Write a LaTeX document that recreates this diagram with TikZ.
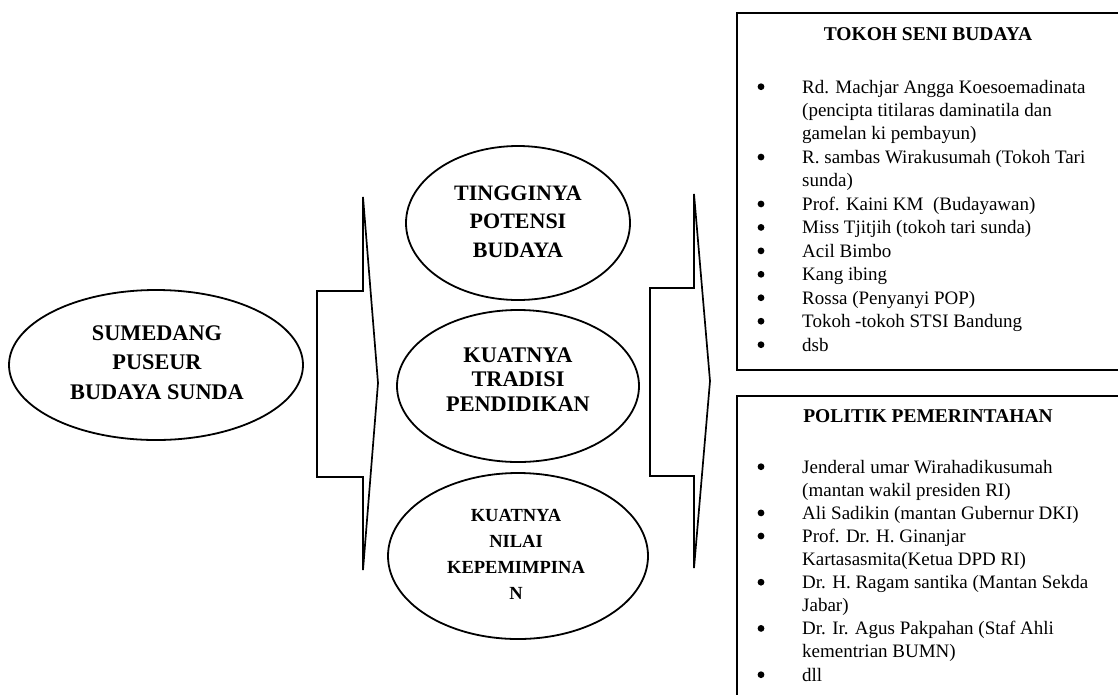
\documentclass[tikz,border=0pt]{standalone}
\usepackage{fontspec}
\setmainfont{Liberation Serif}
\usetikzlibrary{shapes.geometric}
\tikzset{
  oval/.style={draw, ellipse, line width=1.8pt, inner sep=0pt},
  otext/.style={align=center, inner sep=0pt, font=\bfseries\fontsize{22.3}{29.5}\selectfont},
  boxframe/.style={draw, rectangle, line width=1.7pt, inner sep=0pt, anchor=north west},
  ltext/.style={anchor=base west, inner sep=0pt, font=\fontsize{19}{23}\selectfont},
  bul/.style={circle, fill=black, inner sep=0pt, minimum size=6.8pt},
  ttl/.style={anchor=base, inner sep=0pt, font=\bfseries\fontsize{19.5}{23}\selectfont},
  blockarrow/.style={draw, line width=1.7pt, line join=miter},
}
\begin{document}
\begin{tikzpicture}[x=1pt,y=-1pt]
\clip (0,0) rectangle (1118,694);
\fill[white] (0,0) rectangle (1118,694);

% source ellipse
\node[oval, minimum width=294pt, minimum height=150pt] (src) at (156,365) {};
\node[otext] (srct) at (157,362.5) {SUMEDANG\\PUSEUR\\BUDAYA SUNDA};

% block arrows
\coordinate (la) at (363,197);
\draw[blockarrow] (la) -- (378,383) -- (363,570) -- (363,477) -- (317,477) -- (317,291) -- (363,291) -- cycle;
\coordinate (ra) at (694,194);
\draw[blockarrow] (ra) -- (710,381) -- (694,568) -- (694,476) -- (650,476) -- (650,288) -- (694,288) -- cycle;

% middle ellipses
\node[oval, minimum width=224pt, minimum height=154pt] (e1) at (518,223) {};
\node[otext, font=\bfseries\fontsize{22}{28.5}\selectfont] (e1t) at (518,221.5) {TINGGINYA\\POTENSI\\BUDAYA};
\node[oval, minimum width=242pt, minimum height=152pt] (e2) at (518,386) {};
\node[otext, font=\bfseries\fontsize{22.3}{24.5}\selectfont] (e2t) at (518,379.5) {KUATNYA\\TRADISI\\PENDIDIKAN};
\node[oval, minimum width=260pt, minimum height=166pt] (e3) at (518,556) {};
\node[otext, font=\bfseries\fontsize{18.5}{26}\selectfont] (e3t) at (516,554) {KUATNYA\\NILAI\\KEPEMIMPINA\\N};

% right boxes
\node[boxframe, minimum width=404pt, minimum height=357pt] (box1) at (736,12) {};
\node[boxframe, minimum width=404pt, minimum height=330pt] (box2) at (736,395) {};

\node[ttl] (t1) at (928,40) {TOKOH SENI BUDAYA};
\node[ttl] (t2) at (928,422) {POLITIK PEMERINTAHAN};

\foreach \yy/\bb/\mytxt [count=\i] in {
  93/1/{Rd. Machjar Angga Koesoemadinata},
  116.45/0/{(pencipta titilaras daminatila dan},
  139.9/0/{gamelan ki pembayun)},
  163.35/1/{R. sambas Wirakusumah (Tokoh Tari},
  186.8/0/{sunda)},
  210.25/1/{Prof. Kaini KM\ \ (Budayawan)},
  233.7/1/{Miss Tjitjih (tokoh tari sunda)},
  257.15/1/{Acil Bimbo},
  280.6/1/{Kang ibing},
  304.05/1/{Rossa (Penyanyi POP)},
  327.5/1/{Tokoh -tokoh STSI Bandung},
  351/1/{dsb}}
{
  \node[ltext] (ta\i) at (802,\yy) {\mytxt};
  \ifnum\bb=1 \node[bul] (ba\i) at (761,\yy-6.3) {}; \fi
}

\foreach \yy/\bb/\mytxt [count=\i] in {
  473/1/{Jenderal umar Wirahadikusumah},
  496.1/0/{(mantan wakil presiden RI)},
  519.2/1/{Ali Sadikin (mantan Gubernur DKI)},
  542.3/1/{Prof. Dr. H. Ginanjar},
  565.4/0/{Kartasasmita(Ketua DPD RI)},
  588.5/1/{Dr. H. Ragam santika (Mantan Sekda},
  611.6/0/{Jabar)},
  634.7/1/{Dr. Ir. Agus Pakpahan (Staf Ahli},
  657.8/0/{kementrian BUMN)},
  681/1/{dll}}
{
  \node[ltext] (tb\i) at (802,\yy) {\mytxt};
  \ifnum\bb=1 \node[bul] (bb\i) at (761,\yy-6.3) {}; \fi
}
\end{tikzpicture}
\end{document}
